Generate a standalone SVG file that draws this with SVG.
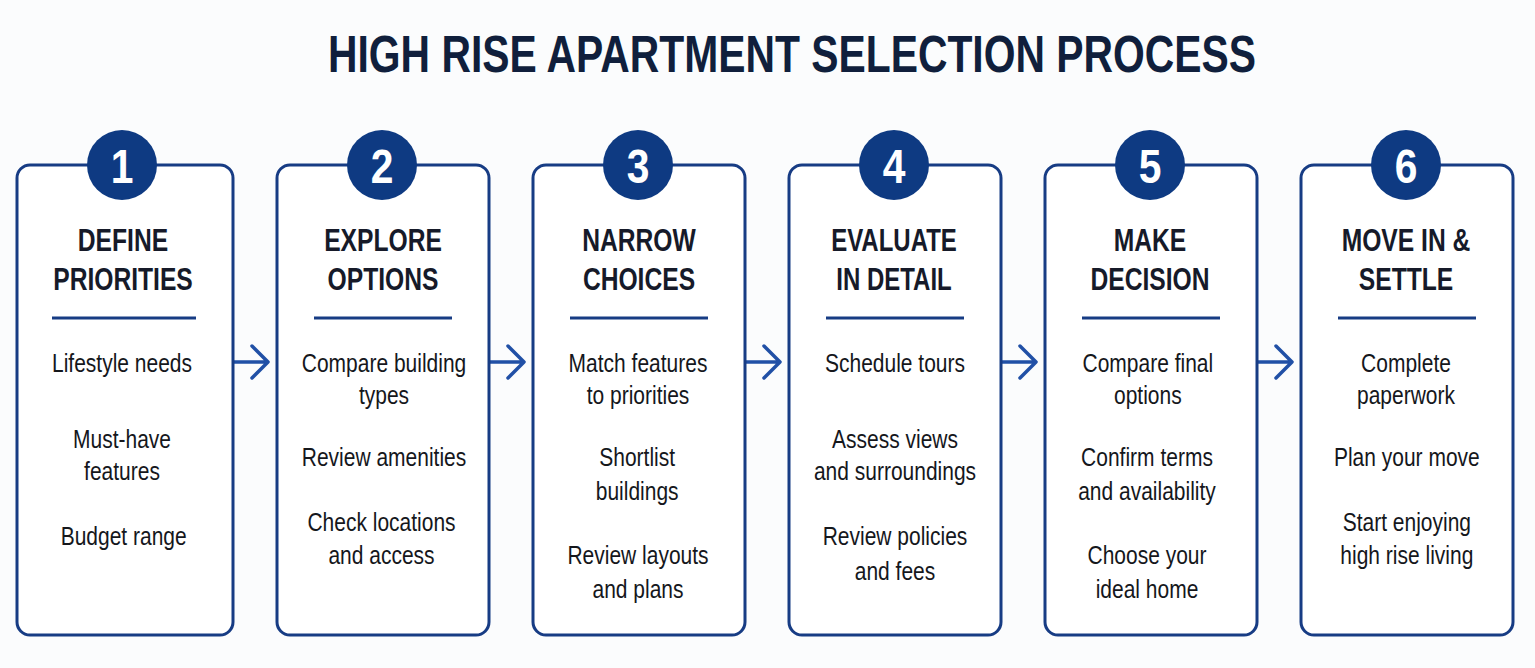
<svg xmlns="http://www.w3.org/2000/svg" width="1535" height="668" viewBox="0 0 1535 668">
<defs>
<style>
.bg{fill:#fbfcfd}
.card{fill:#ffffff;stroke:#173c84;stroke-width:3}
.badge{fill:#0e3a82}
.num{font-family:"Liberation Sans","Roboto",sans-serif;font-weight:700;font-size:48px;fill:#ffffff;text-anchor:middle}
.title{font-family:"Liberation Sans","Roboto",sans-serif;font-weight:700;font-size:51px;fill:#101f3c;text-anchor:middle}
.head{font-family:"Liberation Sans","Roboto",sans-serif;font-weight:700;font-size:32px;fill:#161a29;text-anchor:middle}
.body{font-family:"Liberation Sans","Roboto",sans-serif;font-size:25px;fill:#15171c;text-anchor:middle}
.rule{stroke:#173c84;stroke-width:3}
.arrow{fill:none;stroke:#2150a6;stroke-width:3.5;stroke-linecap:round;stroke-linejoin:round}
</style>
</defs>
<rect class="bg" x="0" y="0" width="1535" height="668"/>
<text class="title" x="792" y="72" textLength="928" lengthAdjust="spacingAndGlyphs">HIGH RISE APARTMENT SELECTION PROCESS</text>

<g id="connectors">
<path class="arrow" d="M234 362 H267 M252 346 L268 362 L252 378"/>
<path class="arrow" d="M490 362 H523 M508 346 L524 362 L508 378"/>
<path class="arrow" d="M746 362 H779 M764 346 L780 362 L764 378"/>
<path class="arrow" d="M1002 362 H1035 M1020 346 L1036 362 L1020 378"/>
<path class="arrow" d="M1258 362 H1291 M1276 346 L1292 362 L1276 378"/>
</g>

<g id="step1">
<rect class="card" x="17" y="165" width="216" height="470" rx="13"/>
<circle class="badge" cx="122" cy="165" r="35"/>
<text class="num" x="122" y="183" transform="translate(122 0) scale(0.85 1) translate(-122 0)">1</text>
<g transform="translate(123 0) scale(0.77 1)">
<text class="head" x="0" y="251">DEFINE</text>
<text class="head" x="0" y="290">PRIORITIES</text>
</g>
<line class="rule" x1="52" y1="318" x2="196" y2="318"/>
<g transform="translate(122 0) scale(0.84 1)">
<text class="body" x="0" y="372">Lifestyle needs</text>
<text class="body" x="0" y="448">Must-have</text>
<text class="body" x="0" y="480">features</text>
<text class="body" x="2" y="545">Budget range</text>
</g>
</g>

<g id="step2">
<rect class="card" x="277" y="165" width="212" height="470" rx="13"/>
<circle class="badge" cx="382" cy="165" r="35"/>
<text class="num" x="382" y="183" transform="translate(382 0) scale(0.85 1) translate(-382 0)">2</text>
<g transform="translate(383 0) scale(0.77 1)">
<text class="head" x="0" y="251">EXPLORE</text>
<text class="head" x="0" y="290">OPTIONS</text>
</g>
<line class="rule" x1="314" y1="318" x2="452" y2="318"/>
<g transform="translate(384 0) scale(0.84 1)">
<text class="body" x="0" y="372">Compare building</text>
<text class="body" x="0" y="404">types</text>
<text class="body" x="0" y="466">Review amenities</text>
<text class="body" x="-3" y="531">Check locations</text>
<text class="body" x="-3" y="564">and access</text>
</g>
</g>

<g id="step3">
<rect class="card" x="533" y="165" width="212" height="470" rx="13"/>
<circle class="badge" cx="638" cy="165" r="35"/>
<text class="num" x="638" y="183" transform="translate(638 0) scale(0.85 1) translate(-638 0)">3</text>
<g transform="translate(639 0) scale(0.77 1)">
<text class="head" x="0" y="251">NARROW</text>
<text class="head" x="0" y="290">CHOICES</text>
</g>
<line class="rule" x1="570" y1="318" x2="708" y2="318"/>
<g transform="translate(638 0) scale(0.84 1)">
<text class="body" x="0" y="372">Match features</text>
<text class="body" x="0" y="404">to priorities</text>
<text class="body" x="-1" y="466">Shortlist</text>
<text class="body" x="-1" y="500">buildings</text>
<text class="body" x="0" y="564">Review layouts</text>
<text class="body" x="0" y="598">and plans</text>
</g>
</g>

<g id="step4">
<rect class="card" x="789" y="165" width="212" height="470" rx="13"/>
<circle class="badge" cx="894" cy="165" r="35"/>
<text class="num" x="894" y="183" transform="translate(894 0) scale(0.85 1) translate(-894 0)">4</text>
<g transform="translate(894 0) scale(0.75 1)">
<text class="head" x="0" y="251">EVALUATE</text>
<text class="head" x="0" y="290">IN DETAIL</text>
</g>
<line class="rule" x1="826" y1="318" x2="964" y2="318"/>
<g transform="translate(895 0) scale(0.84 1)">
<text class="body" x="0" y="372">Schedule tours</text>
<text class="body" x="0" y="448">Assess views</text>
<text class="body" x="0" y="480">and surroundings</text>
<text class="body" x="0" y="545">Review policies</text>
<text class="body" x="0" y="580">and fees</text>
</g>
</g>

<g id="step5">
<rect class="card" x="1045" y="165" width="212" height="470" rx="13"/>
<circle class="badge" cx="1150" cy="165" r="35"/>
<text class="num" x="1150" y="183" transform="translate(1150 0) scale(0.85 1) translate(-1150 0)">5</text>
<g transform="translate(1150 0) scale(0.77 1)">
<text class="head" x="0" y="251">MAKE</text>
<text class="head" x="0" y="290">DECISION</text>
</g>
<line class="rule" x1="1082" y1="318" x2="1220" y2="318"/>
<g transform="translate(1147 0) scale(0.84 1)">
<text class="body" x="1" y="372">Compare final</text>
<text class="body" x="1" y="404">options</text>
<text class="body" x="0" y="466">Confirm terms</text>
<text class="body" x="0" y="500">and availability</text>
<text class="body" x="0" y="564">Choose your</text>
<text class="body" x="0" y="598">ideal home</text>
</g>
</g>

<g id="step6">
<rect class="card" x="1301" y="165" width="212" height="470" rx="13"/>
<circle class="badge" cx="1406" cy="165" r="35"/>
<text class="num" x="1406" y="183" transform="translate(1406 0) scale(0.85 1) translate(-1406 0)">6</text>
<g transform="translate(1406 0) scale(0.77 1)">
<text class="head" x="0" y="251">MOVE IN &amp;</text>
<text class="head" x="0" y="290">SETTLE</text>
</g>
<line class="rule" x1="1338" y1="318" x2="1476" y2="318"/>
<g transform="translate(1406 0) scale(0.84 1)">
<text class="body" x="0" y="372">Complete</text>
<text class="body" x="0" y="404">paperwork</text>
<text class="body" x="1" y="466">Plan your move</text>
<text class="body" x="1" y="531">Start enjoying</text>
<text class="body" x="1" y="564">high rise living</text>
</g>
</g>
</svg>
